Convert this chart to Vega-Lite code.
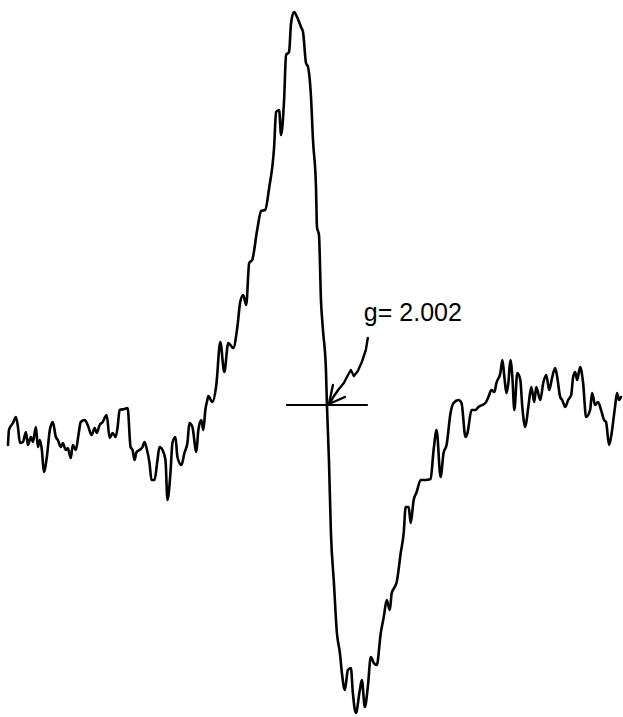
{
  "$schema": "https://vega.github.io/schema/vega-lite/v6.json",
  "autosize": {"type": "fit", "contains": "padding"},
  "width": 623,
  "height": 717,
  "padding": 0,
  "background": "white",
  "config": {"view": {"stroke": null}},
  "datasets": {
    "spectrum": [
      {"B": 8, "signal": -40}, {"B": 9, "signal": -25}, {"B": 13, "signal": -18}, {"B": 16, "signal": -12},
      {"B": 18, "signal": -22}, {"B": 20, "signal": -38}, {"B": 23, "signal": -37}, {"B": 26, "signal": -27},
      {"B": 28, "signal": -40}, {"B": 31, "signal": -32}, {"B": 33, "signal": -37}, {"B": 36, "signal": -22},
      {"B": 38, "signal": -42}, {"B": 40, "signal": -35}, {"B": 42, "signal": -45}, {"B": 44, "signal": -67},
      {"B": 47, "signal": -52}, {"B": 50, "signal": -25}, {"B": 53, "signal": -17}, {"B": 56, "signal": -32},
      {"B": 58, "signal": -35}, {"B": 61, "signal": -42}, {"B": 63, "signal": -38}, {"B": 66, "signal": -45},
      {"B": 68, "signal": -43}, {"B": 71, "signal": -53}, {"B": 73, "signal": -40}, {"B": 76, "signal": -45},
      {"B": 79, "signal": -28}, {"B": 81, "signal": -17}, {"B": 85, "signal": -15}, {"B": 88, "signal": -20},
      {"B": 92, "signal": -30}, {"B": 95, "signal": -23}, {"B": 97, "signal": -28}, {"B": 100, "signal": -20},
      {"B": 103, "signal": -17}, {"B": 107, "signal": -10}, {"B": 110, "signal": -33}, {"B": 113, "signal": -28},
      {"B": 116, "signal": -32}, {"B": 118, "signal": -22}, {"B": 120, "signal": -5}, {"B": 125, "signal": -4},
      {"B": 128, "signal": -3}, {"B": 131, "signal": -42}, {"B": 133, "signal": -45}, {"B": 135, "signal": -55},
      {"B": 137, "signal": -47}, {"B": 140, "signal": -45}, {"B": 143, "signal": -42}, {"B": 145, "signal": -37},
      {"B": 147, "signal": -43}, {"B": 150, "signal": -58}, {"B": 152, "signal": -75}, {"B": 155, "signal": -75},
      {"B": 158, "signal": -55}, {"B": 160, "signal": -42}, {"B": 163, "signal": -45}, {"B": 166, "signal": -55},
      {"B": 168, "signal": -95}, {"B": 171, "signal": -68}, {"B": 173, "signal": -38}, {"B": 176, "signal": -32},
      {"B": 178, "signal": -52}, {"B": 182, "signal": -60}, {"B": 185, "signal": -48}, {"B": 188, "signal": -38},
      {"B": 190, "signal": -18}, {"B": 193, "signal": -22}, {"B": 197, "signal": -47}, {"B": 199, "signal": -25},
      {"B": 202, "signal": -15}, {"B": 204, "signal": -25}, {"B": 206, "signal": -5}, {"B": 208, "signal": 5},
      {"B": 209, "signal": 9}, {"B": 213, "signal": 3}, {"B": 217, "signal": 20}, {"B": 221, "signal": 63},
      {"B": 225, "signal": 33}, {"B": 229, "signal": 62}, {"B": 234, "signal": 57}, {"B": 238, "signal": 77},
      {"B": 241, "signal": 103}, {"B": 244, "signal": 110}, {"B": 247, "signal": 100}, {"B": 250, "signal": 142},
      {"B": 253, "signal": 145}, {"B": 258, "signal": 175}, {"B": 262, "signal": 194}, {"B": 266, "signal": 195},
      {"B": 270, "signal": 217}, {"B": 275, "signal": 258}, {"B": 277, "signal": 293}, {"B": 280, "signal": 295},
      {"B": 282, "signal": 270}, {"B": 285, "signal": 305}, {"B": 287, "signal": 350}, {"B": 290, "signal": 353},
      {"B": 292, "signal": 382}, {"B": 295, "signal": 393}, {"B": 298, "signal": 388}, {"B": 302, "signal": 378},
      {"B": 304, "signal": 373}, {"B": 307, "signal": 342}, {"B": 309, "signal": 338}, {"B": 312, "signal": 308},
      {"B": 314, "signal": 265}, {"B": 317, "signal": 218}, {"B": 318, "signal": 178}, {"B": 320, "signal": 170},
      {"B": 322, "signal": 105}, {"B": 324, "signal": 75}, {"B": 327, "signal": 35}, {"B": 328, "signal": 0},
      {"B": 330, "signal": -55}, {"B": 332, "signal": -128}, {"B": 335, "signal": -178}, {"B": 338, "signal": -228},
      {"B": 341, "signal": -248}, {"B": 343, "signal": -268}, {"B": 346, "signal": -285}, {"B": 349, "signal": -265},
      {"B": 352, "signal": -263}, {"B": 354, "signal": -288}, {"B": 357, "signal": -308}, {"B": 361, "signal": -285},
      {"B": 363, "signal": -275}, {"B": 366, "signal": -302}, {"B": 369, "signal": -282}, {"B": 372, "signal": -252},
      {"B": 375, "signal": -258}, {"B": 378, "signal": -260}, {"B": 382, "signal": -228}, {"B": 385, "signal": -212},
      {"B": 388, "signal": -195}, {"B": 391, "signal": -205}, {"B": 393, "signal": -188}, {"B": 396, "signal": -182},
      {"B": 398, "signal": -177}, {"B": 402, "signal": -148}, {"B": 405, "signal": -128}, {"B": 407, "signal": -102},
      {"B": 410, "signal": -102}, {"B": 412, "signal": -118}, {"B": 415, "signal": -95}, {"B": 418, "signal": -87},
      {"B": 422, "signal": -75}, {"B": 427, "signal": -75}, {"B": 432, "signal": -74}, {"B": 435, "signal": -45},
      {"B": 438, "signal": -25}, {"B": 442, "signal": -72}, {"B": 445, "signal": -48}, {"B": 448, "signal": -40},
      {"B": 452, "signal": -8}, {"B": 455, "signal": 2}, {"B": 460, "signal": 5}, {"B": 463, "signal": 2},
      {"B": 467, "signal": -32}, {"B": 469, "signal": -28}, {"B": 473, "signal": -5}, {"B": 477, "signal": -5},
      {"B": 480, "signal": -2}, {"B": 487, "signal": 2}, {"B": 490, "signal": 8}, {"B": 493, "signal": 15},
      {"B": 496, "signal": 13}, {"B": 498, "signal": 22}, {"B": 502, "signal": 32}, {"B": 504, "signal": 45},
      {"B": 506, "signal": 28}, {"B": 508, "signal": 12}, {"B": 510, "signal": 22}, {"B": 512, "signal": 45},
      {"B": 514, "signal": 28}, {"B": 516, "signal": -5}, {"B": 519, "signal": 32}, {"B": 522, "signal": 25},
      {"B": 524, "signal": -2}, {"B": 527, "signal": -22}, {"B": 530, "signal": -2}, {"B": 533, "signal": 18},
      {"B": 536, "signal": 3}, {"B": 538, "signal": 18}, {"B": 542, "signal": 5}, {"B": 545, "signal": 22},
      {"B": 548, "signal": 30}, {"B": 551, "signal": 15}, {"B": 554, "signal": 28}, {"B": 557, "signal": 37},
      {"B": 559, "signal": 28}, {"B": 562, "signal": 8}, {"B": 564, "signal": 5}, {"B": 567, "signal": -2},
      {"B": 570, "signal": 5}, {"B": 573, "signal": 10}, {"B": 575, "signal": 28}, {"B": 577, "signal": 33},
      {"B": 579, "signal": 25}, {"B": 582, "signal": 38}, {"B": 585, "signal": 22}, {"B": 588, "signal": -12},
      {"B": 592, "signal": -5}, {"B": 594, "signal": 12}, {"B": 597, "signal": 0}, {"B": 600, "signal": 3},
      {"B": 603, "signal": -5}, {"B": 606, "signal": -15}, {"B": 608, "signal": -17}, {"B": 611, "signal": -40},
      {"B": 613, "signal": -32}, {"B": 617, "signal": -2}, {"B": 619, "signal": 12}, {"B": 621, "signal": 5},
      {"B": 623, "signal": 8}
    ],
    "marker": [{"B": 287, "B2": 369, "signal": 0}],
    "pointer": [
      {"part": "stem", "k": 0, "B": 369, "signal": 67},
      {"part": "stem", "k": 1, "B": 367, "signal": 55},
      {"part": "stem", "k": 2, "B": 363, "signal": 43},
      {"part": "stem", "k": 3, "B": 359, "signal": 34},
      {"part": "stem", "k": 4, "B": 355, "signal": 29},
      {"part": "stem", "k": 5, "B": 352, "signal": 35},
      {"part": "stem", "k": 6, "B": 348, "signal": 28},
      {"part": "stem", "k": 7, "B": 345, "signal": 22},
      {"part": "stem", "k": 8, "B": 340, "signal": 16},
      {"part": "stem", "k": 9, "B": 335, "signal": 9},
      {"part": "stem", "k": 10, "B": 331, "signal": 2},
      {"part": "head", "k": 0, "B": 334, "signal": 20},
      {"part": "head", "k": 1, "B": 330, "signal": 1},
      {"part": "head", "k": 2, "B": 346, "signal": 8}
    ],
    "label": [{"B": 365, "signal": 84, "text": "g= 2.002"}]
  },
  "encoding": {
    "x": {"field": "B", "type": "quantitative", "scale": {"domain": [0, 623], "nice": false, "zero": false}, "axis": null},
    "y": {"field": "signal", "type": "quantitative", "scale": {"domain": [-312, 405], "nice": false, "zero": false}, "axis": null}
  },
  "layer": [
    {
      "data": {"name": "spectrum"},
      "mark": {"type": "line", "color": "black", "strokeWidth": 2.6, "interpolate": "monotone", "strokeJoin": "round", "strokeCap": "round"},
      "encoding": {}
    },
    {
      "data": {"name": "marker"},
      "mark": {"type": "rule", "color": "black", "strokeWidth": 2.2},
      "encoding": {"x2": {"field": "B2"}}
    },
    {
      "data": {"name": "pointer"},
      "mark": {"type": "line", "color": "black", "strokeWidth": 2.4, "strokeJoin": "round", "strokeCap": "round"},
      "encoding": {
        "detail": {"field": "part"},
        "order": {"field": "k", "type": "quantitative"}
      }
    },
    {
      "data": {"name": "label"},
      "mark": {"type": "text", "align": "left", "baseline": "alphabetic", "font": "Liberation Sans", "fontSize": 25, "color": "black"},
      "encoding": {"text": {"field": "text"}}
    }
  ]
}
